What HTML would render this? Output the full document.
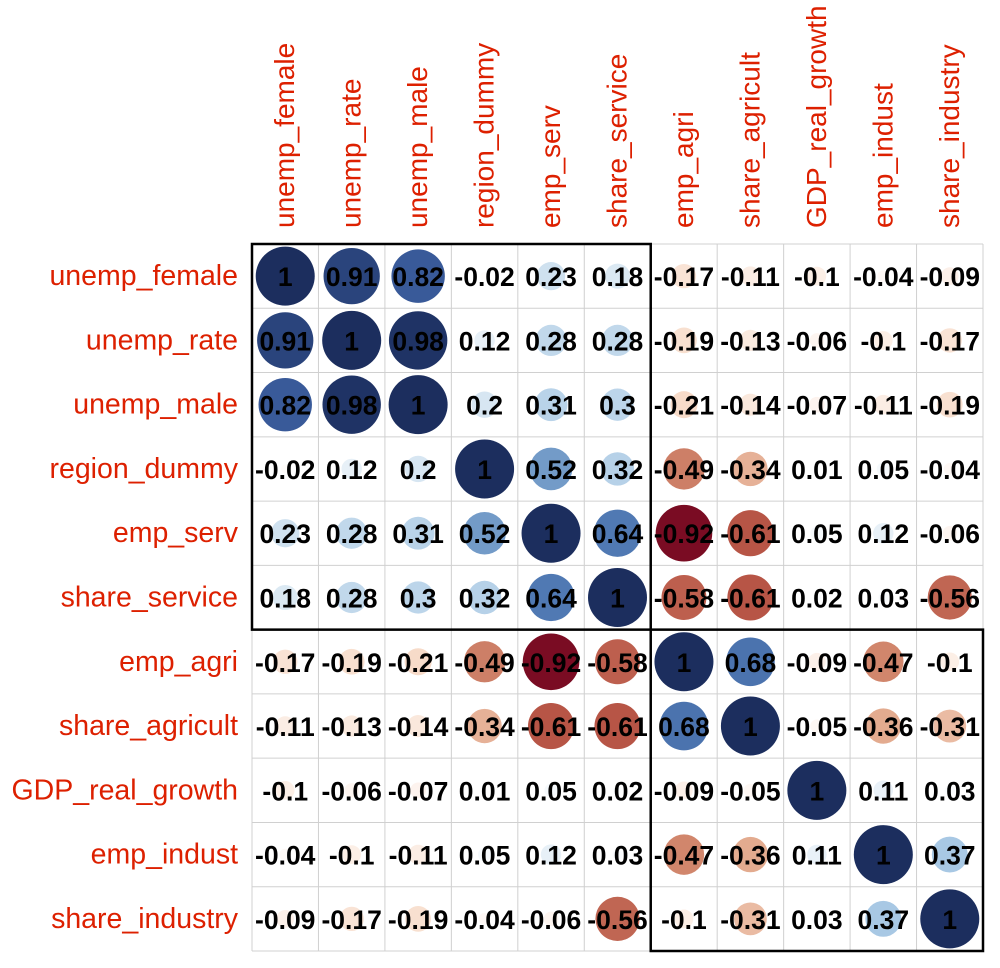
<!DOCTYPE html>
<html><head><meta charset="utf-8"><style>
body{margin:0;background:#fff;}
svg{display:block;font-family:"Liberation Sans",Arial,sans-serif;}
</style></head><body>
<svg id="chart" width="1000" height="968" viewBox="0 0 1000 968" xmlns="http://www.w3.org/2000/svg"></svg>
<script>
const variables = ["unemp_female","unemp_rate","unemp_male","region_dummy","emp_serv","share_service","emp_agri","share_agricult","GDP_real_growth","emp_indust","share_industry"];
const row0 = [1,0.91,0.82,-0.02,0.23,0.18,-0.17,-0.11,-0.1,-0.04,-0.09];
const row1 = [0.91,1,0.98,0.12,0.28,0.28,-0.19,-0.13,-0.06,-0.1,-0.17];
const row2 = [0.82,0.98,1,0.2,0.31,0.3,-0.21,-0.14,-0.07,-0.11,-0.19];
const row3 = [-0.02,0.12,0.2,1,0.52,0.32,-0.49,-0.34,0.01,0.05,-0.04];
const row4 = [0.23,0.28,0.31,0.52,1,0.64,-0.92,-0.61,0.05,0.12,-0.06];
const row5 = [0.18,0.28,0.3,0.32,0.64,1,-0.58,-0.61,0.02,0.03,-0.56];
const row6 = [-0.17,-0.19,-0.21,-0.49,-0.92,-0.58,1,0.68,-0.09,-0.47,-0.1];
const row7 = [-0.11,-0.13,-0.14,-0.34,-0.61,-0.61,0.68,1,-0.05,-0.36,-0.31];
const row8 = [-0.1,-0.06,-0.07,0.01,0.05,0.02,-0.09,-0.05,1,0.11,0.03];
const row9 = [-0.04,-0.1,-0.11,0.05,0.12,0.03,-0.47,-0.36,0.11,1,0.37];
const row10 = [-0.09,-0.17,-0.19,-0.04,-0.06,-0.56,-0.1,-0.31,0.03,0.37,1];
const matrix = [row0,row1,row2,row3,row4,row5,row6,row7,row8,row9,row10];
const clusters = [[0,5],[6,10]];

const NS="http://www.w3.org/2000/svg";
const svg=document.getElementById('chart');
const X0=252,X1=983,Y0=244,Y1=951,n=variables.length;
const cw=(X1-X0)/n, ch=(Y1-Y0)/n;
const xPos=i=>X0+i*cw, yPos=i=>Y0+i*ch;
const R=29.5;
const stops=[[-1,[103,0,31]],[-0.8,[150,30,40]],[-0.6,[185,88,72]],[-0.4,[222,158,128]],[-0.2,[248,222,205]],[0,[255,255,255]],[0.2,[215,230,242]],[0.4,[160,195,225]],[0.6,[85,128,184]],[0.8,[60,95,160]],[1,[28,46,94]]];
function color(v){
  for(let k=0;k<stops.length-1;k++){
    const [a,ca]=stops[k],[b,cb]=stops[k+1];
    if(v>=a&&v<=b){const t=(v-a)/(b-a);
      const c=ca.map((q,j)=>Math.round(q+(cb[j]-q)*t));
      return `rgb(${c.join(',')})`;}
  }
  return '#fff';
}
function mk(tag,attrs,parent){const e=document.createElementNS(NS,tag);for(const k in attrs)e.setAttribute(k,attrs[k]);(parent||svg).appendChild(e);return e;}

for(let i=0;i<=n;i++){
  const v=mk('line',{x1:xPos(i),y1:Y0,x2:xPos(i),y2:Y1,stroke:'#d0d0d0','stroke-width':1});
  
  
  const h=mk('line',{x1:X0,y1:yPos(i),x2:X1,y2:yPos(i),stroke:'#d0d0d0','stroke-width':1});
  
  
}
variables.forEach((name,i)=>{
  const t=mk('text',{x:238,y:yPos(i)+ch/2+9,'text-anchor':'end','font-size':28.5,fill:'#dd2000'});
  t.textContent=name;
  
  
  const cx=xPos(i)+cw/2+9, cy=228;
  const c=mk('text',{x:cx,y:cy,'text-anchor':'start','font-size':28,fill:'#dd2000',transform:`rotate(-90 ${cx} ${cy})`});
  c.textContent=name;
  
  
});
matrix.forEach((row,i)=>row.forEach((v,j)=>{
  const cx=xPos(j)+cw/2, cy=yPos(i)+ch/2;
  const circ=mk('circle',{cx:cx,cy:cy,r:R*Math.sqrt(Math.abs(v)),fill:color(v)});
  
  
  const t=mk('text',{x:cx,y:cy+10,'text-anchor':'middle','font-size':26.5,'font-weight':'bold',fill:'#000'});
  t.textContent=String(v);
  
  
}));
clusters.forEach(([a,b])=>{
  const r=mk('rect',{x:xPos(a),y:yPos(a),width:xPos(b+1)-xPos(a),height:yPos(b+1)-yPos(a),fill:'none',stroke:'#000','stroke-width':2.5});
  
  
});
</script>
</body></html>
